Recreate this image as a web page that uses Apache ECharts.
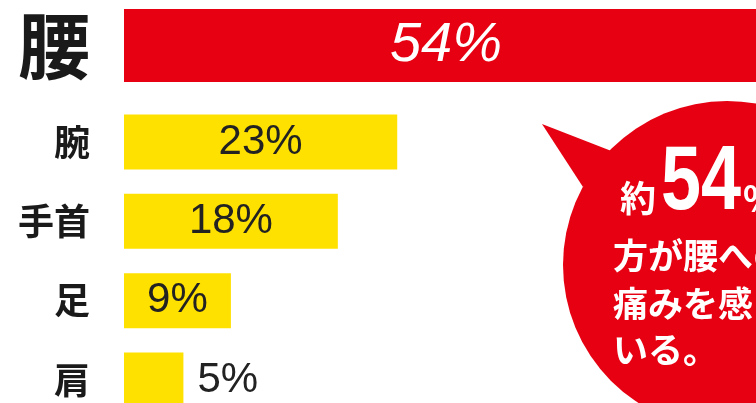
<!DOCTYPE html>
<html><head><meta charset="utf-8">
<script src="https://cdn.jsdelivr.net/npm/echarts@6/dist/echarts.min.js"></script>
<style>html,body{margin:0;padding:0;background:#fff;}#c{width:756px;height:403px;}</style>
</head><body><div id="c"></div>
<script>
const categories = ['腰', '腕', '手首', '足', '肩'];
const values = [54, 23, 18, 9, 5];
const labels = ['54%', '23%', '18%', '9%', '5%'];
const bubbleLines = ['方が腰への', '痛みを感じて', 'いる。'];

const RED = '#E60012', YELLOW = '#FFE100';
const CJK = '"Noto Sans CJK JP", sans-serif';
const NUM = '"Liberation Sans", Arial, sans-serif';
const X_MAX = 53.2;

const chart = echarts.init(document.getElementById('c'), null, {renderer: 'canvas'});

const topCats = categories.slice(0, 1), restCats = categories.slice(1);
const topVals = values.slice(0, 1), restVals = values.slice(1);

const option = {
  animation: false,
  grid: [
    {left: 124, top: 0, right: 0, height: 91},
    {left: 124, top: 142, right: 0, height: 238}
  ],
  xAxis: [
    {gridIndex: 0, type: 'value', min: 0, max: X_MAX, show: false},
    {gridIndex: 1, type: 'value', min: 0, max: X_MAX, show: false}
  ],
  yAxis: [
    {gridIndex: 0, type: 'category', data: topCats, inverse: true,
     axisLine: {show: false}, axisTick: {show: false},
     axisLabel: {margin: 34, fontFamily: CJK, fontWeight: 'bold', fontSize: 72, color: '#1a1a1a'}},
    {gridIndex: 1, type: 'category', data: restCats, inverse: true, boundaryGap: false,
     axisLine: {show: false}, axisTick: {show: false},
     axisLabel: {margin: 34, fontFamily: CJK, fontWeight: 'bold', fontSize: 36, color: '#1a1a1a'}}
  ],
  series: [
    {type: 'bar', xAxisIndex: 0, yAxisIndex: 0, barWidth: 73, data: topVals,
     itemStyle: {color: RED},
     label: {show: true, position: 'inside', offset: [6, 0], formatter: (p) => labels[p.dataIndex],
             color: '#fff', fontFamily: NUM, fontStyle: 'italic', fontSize: 56}},
    {type: 'bar', xAxisIndex: 1, yAxisIndex: 1, barWidth: 55, clip: false,
     data: restVals.map((v, i) => ({
       value: v,
       label: v < 7 ? {position: 'right', distance: 14} : {position: 'inside'}
     })),
     itemStyle: {color: YELLOW},
     label: {show: true, formatter: (p) => labels[p.dataIndex + 1],
             color: '#222', fontFamily: NUM, fontSize: 42}}
  ],
  graphic: [
    {type: 'circle', shape: {cx: 727, cy: 265, r: 164}, style: {fill: RED}, z: 10},
    {type: 'polygon', shape: {points: [[542, 124], [614, 152], [583, 187]]}, style: {fill: RED}, z: 10},
    {type: 'text', x: 620, y: 198, z: 11, style: {text: '約', fill: '#fff', font: 'bold 36px ' + CJK, verticalAlign: 'middle'}},
    {type: 'text', x: 661, y: 184, scaleX: 0.8, z: 11, style: {text: '54', fill: '#fff', font: 'bold 90px ' + NUM, verticalAlign: 'middle'}},
    {type: 'text', x: 743, y: 198, z: 11, style: {text: '%の', fill: '#fff', font: 'bold 36px ' + CJK, verticalAlign: 'middle'}},
    {type: 'text', x: 613, y: 256, z: 11, style: {text: bubbleLines[0], fill: '#fff', font: 'bold 35px ' + CJK, verticalAlign: 'middle'}},
    {type: 'text', x: 613, y: 304, z: 11, style: {text: bubbleLines[1], fill: '#fff', font: 'bold 35px ' + CJK, verticalAlign: 'middle'}},
    {type: 'text', x: 613, y: 350, z: 11, style: {text: bubbleLines[2], fill: '#fff', font: 'bold 35px ' + CJK, verticalAlign: 'middle'}}
  ]
};
chart.setOption(option);
</script></body></html>
